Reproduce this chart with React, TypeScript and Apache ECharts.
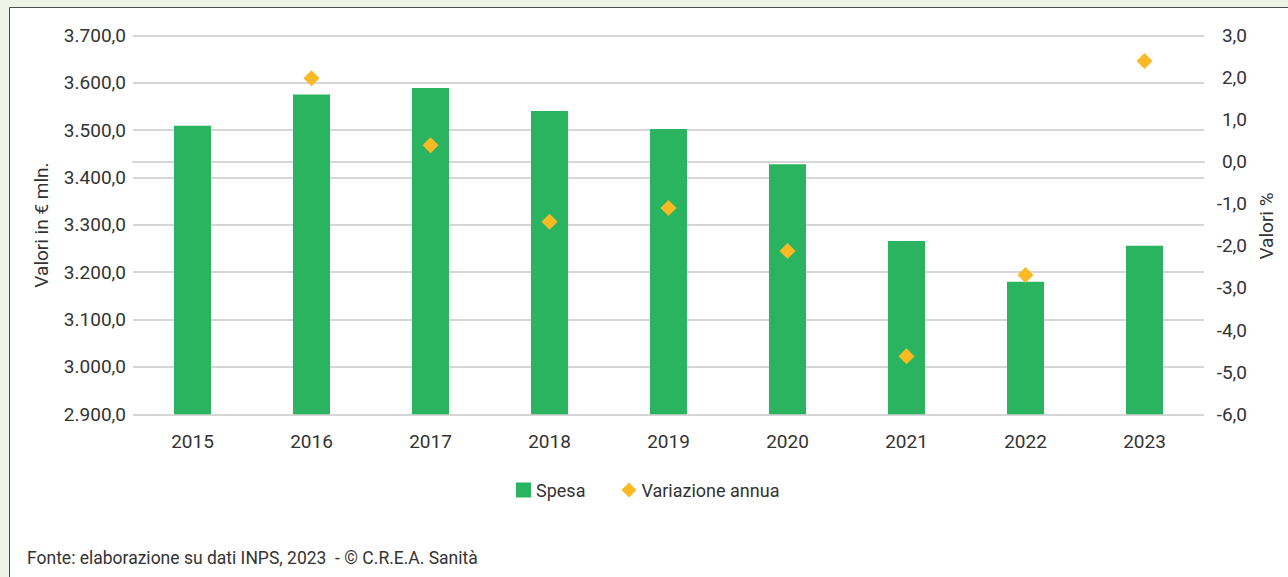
import React, { useEffect, useRef } from "react";
import * as echarts from "echarts";

const years = ["2015", "2016", "2017", "2018", "2019", "2020", "2021", "2022", "2023"];
const spesa = [3509, 3575, 3589, 3540, 3502, 3428, 3266, 3180, 3256];
const variazione: (number | null)[] = [null, 1.98, 0.39, -1.43, -1.1, -2.12, -4.62, -2.69, 2.39];
const leftAxisName = "Valori in € mln.";
const rightAxisName = "Valori %";
const legendNames = ["Spesa", "Variazione annua"];
const sourceText = "Fonte: elaborazione su dati INPS, 2023  - © C.R.E.A. Sanità";

const FONT = "Roboto, 'Liberation Sans', sans-serif";
const TEXT = "#333333";
const FS = 19;

const fmtLeft = (v: number) => {
  const s = Math.round(v).toString();
  const withDots = s.replace(/\B(?=(\d{3})+(?!\d))/g, ".");
  return withDots + ",0";
};
const fmtRight = (v: number) => v.toFixed(1).replace(".", ",");

export default function App() {
  const ref = useRef<HTMLDivElement>(null);

  useEffect(() => {
    document.body.style.margin = "0";
    if (!ref.current) return;
    const chart = echarts.init(ref.current, undefined, { renderer: "svg" });
    chart.setOption({
      animation: false,
      backgroundColor: "#eef3e7",
      textStyle: { fontFamily: FONT, color: TEXT },
      graphic: [
        {
          type: "rect",
          z: -10,
          shape: { x: 9.5, y: 7.5, width: 1300, height: 600 },
          style: { fill: "#ffffff", stroke: "#4d4d4d", lineWidth: 1 },
        },
        {
          type: "text",
          x: 41,
          y: 225,
          rotation: Math.PI / 2,
          style: {
            text: leftAxisName,
            fontFamily: FONT,
            fontSize: FS,
            fill: TEXT,
            align: "center",
            verticalAlign: "middle",
          },
        },
        {
          type: "text",
          x: 1266,
          y: 226,
          rotation: Math.PI / 2,
          style: {
            text: rightAxisName,
            fontFamily: FONT,
            fontSize: FS,
            fill: TEXT,
            align: "center",
            verticalAlign: "middle",
          },
        },
        {
          type: "text",
          x: 27,
          y: 558,
          style: {
            text: sourceText,
            fontFamily: FONT,
            fontSize: 17.5,
            fill: TEXT,
            align: "left",
            verticalAlign: "middle",
          },
        },
      ],
      grid: { left: 133, right: 84, top: 35.3, height: 379, containLabel: false },
      legend: {
        left: 516,
        top: 481,
        padding: 0,
        itemWidth: 15,
        itemHeight: 15,
        itemGap: 36,
        textStyle: { fontFamily: FONT, fontSize: 18, color: TEXT },
        data: [
          { name: legendNames[0], icon: "rect" },
          { name: legendNames[1], icon: "diamond" },
        ],
      },
      xAxis: {
        type: "category",
        data: years,
        axisLine: { show: true, lineStyle: { color: "#d6d6d6", width: 2 } },
        axisTick: { show: false },
        axisLabel: { fontFamily: FONT, fontSize: FS, color: TEXT, margin: 18 },
      },
      yAxis: [
        {
          type: "value",
          min: 2900,
          max: 3700,
          interval: 100,
          axisLine: { show: false },
          axisTick: { show: false },
          splitLine: { lineStyle: { color: "#d6d6d6", width: 2 } },
          axisLabel: { fontFamily: FONT, fontSize: FS, color: TEXT, margin: 7, formatter: fmtLeft },
        },
        {
          type: "value",
          min: -6,
          max: 3,
          interval: 1,
          position: "right",
          axisLine: { show: false },
          axisTick: { show: false },
          splitLine: { show: false },
          axisLabel: {
            fontFamily: FONT,
            fontSize: FS,
            color: TEXT,
            margin: 43,
            align: "right",
            formatter: fmtRight,
          },
        },
      ],
      series: [
        {
          name: legendNames[0],
          type: "bar",
          data: spesa,
          yAxisIndex: 0,
          barWidth: 37,
          itemStyle: { color: "#2bb45f" },
        },
        {
          name: legendNames[1],
          type: "scatter",
          data: variazione,
          yAxisIndex: 1,
          symbol: "diamond",
          symbolSize: 16,
          itemStyle: { color: "#fbb923", opacity: 1 },
          z: 5,
        },
      ],
    });
    return () => chart.dispose();
  }, []);

  return <div ref={ref} style={{ width: 1288, height: 577 }} />;
}
